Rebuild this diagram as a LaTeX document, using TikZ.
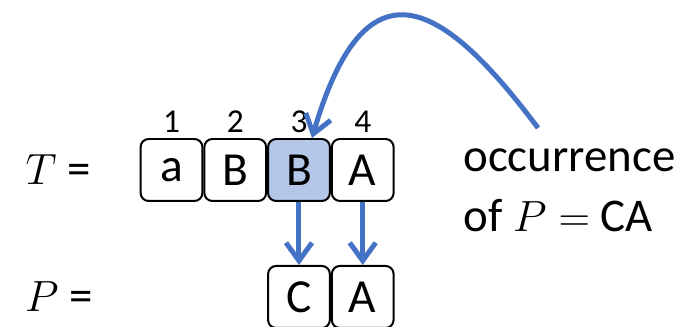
\documentclass[tikz,border=0pt]{standalone}
\usepackage{fontspec}
\setmainfont{Carlito}
\usetikzlibrary{arrows.meta,positioning}
\definecolor{linkblue}{HTML}{4472C4}
\definecolor{hitfill}{HTML}{B4C7E7}

\begin{document}
\begin{tikzpicture}[
    x=0.02cm,y=0.02cm,
    cell/.style={draw=black,line width=0.04cm,rounded corners=0.16cm,
                 minimum width=1.235cm,minimum height=1.24cm,inner sep=0pt,
                 font=\fontsize{27}{32}\selectfont},
    hit/.style={cell,fill=hitfill},
    idx/.style={font=\fontsize{19}{22}\selectfont,inner sep=0pt},
    lbl/.style={font=\fontsize{26.7}{34.1}\selectfont,inner sep=0pt},
    link/.style={-{Straight Barb[length=0.36cm,width=0.52cm]},line width=0.1cm,linkblue}
  ]
    \useasboundingbox (0,0) rectangle (692,327);

    % text row
    \node[lbl] (tlbl) at (58,157) {$T$ =};
    \node[cell] (t1) at (171.5,157) {a};
    \node[cell,right=0pt of t1] (t2) {B};
    \node[hit,right=0pt of t2] (t3) {B};
    \node[cell,right=0pt of t3] (t4) {A};
    \node[idx] (n1) at (t1.center |- 0,205) {1};
    \node[idx] (n2) at (t2.center |- 0,205) {2};
    \node[idx] (n3) at (t3.center |- 0,205) {3};
    \node[idx] (n4) at (t4.center |- 0,205) {4};

    % pattern row
    \node[lbl] (plbl) at (59,30) {$P$ =};
    \node[cell,below=1.26cm of t3] (p1) {C};
    \node[cell,right=0pt of p1] (p2) {A};

    \draw[link] (t3) -- (p1);
    \draw[link] (t4) -- (p2);

    % occurrence note
    \node[lbl,align=left,anchor=north west] (note) at (463,179)
      {occurrence\\of $P=$ CA};
    \coordinate (from) at (538,199);
    \draw[link] (from) .. controls (440,330) and (365,370) .. ([xshift=0.26cm]t3.north);
  \end{tikzpicture}
\end{document}
